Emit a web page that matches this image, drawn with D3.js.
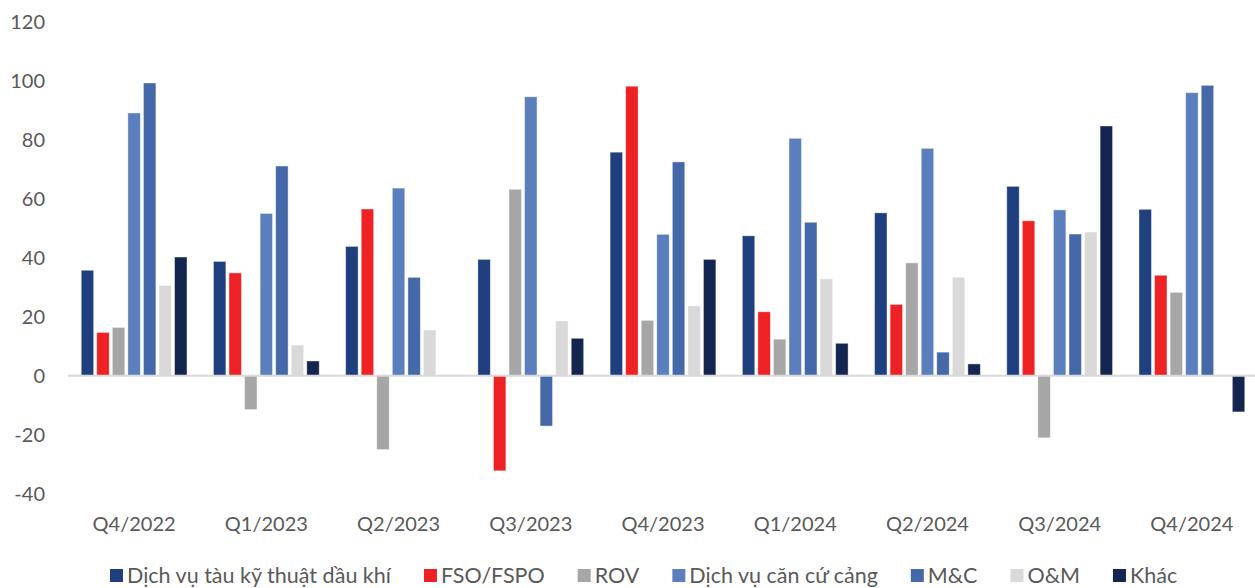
<!DOCTYPE html>
<html>
<head>
<meta charset="utf-8">
<script src="https://cdn.jsdelivr.net/npm/d3@7"></script>
<style>
  body { margin: 0; background: #fff; }
  svg { display: block; font-family: Lato, "Open Sans", sans-serif; }
</style>
</head>
<body>
<div id="chart"></div>
<script>
// quarterly growth by segment (%)
const quarters = ["Q4/2022", "Q1/2023", "Q2/2023", "Q3/2023", "Q4/2023", "Q1/2024", "Q2/2024", "Q3/2024", "Q4/2024"];

const seriesNames = ["Dịch vụ tàu kỹ thuật dầu khí", "FSO/FSPO", "ROV", "Dịch vụ căn cứ cảng", "M&C", "O&M", "Khác"];
const seriesColors = ["#1F3F7E", "#EE2125", "#A6A6A6", "#5B7FBD", "#4569A8", "#D9D9D9", "#14264F"];

const tauKyThuat = [35.8, 38.8, 43.9, 39.5, 75.9, 47.5, 55.3, 64.3, 56.5];
const fso        = [14.7, 34.9, 56.6, -32.3, 98.3, 21.7, 24.2, 52.6, 34.1];
const rov        = [16.4, -11.5, -25.1, 63.3, 18.8, 12.4, 38.3, -21.1, 28.3];
const canCuCang  = [89.2, 55.1, 63.7, 94.7, 48.0, 80.6, 77.2, 56.3, 96.1];
const mc         = [99.4, 71.2, 33.4, -17.1, 72.6, 52.1, 8.0, 48.1, 98.6];
const om         = [30.6, 10.4, 15.5, 18.6, 23.7, 32.9, 33.4, 48.8, 0];
const khac       = [40.3, 5.0, 0, 12.7, 39.5, 11.0, 4.0, 84.8, -12.3];

const yTicks = [-40, -20, 0, 20, 40, 60, 80, 100, 120];

const allSeries = [tauKyThuat, fso, rov, canCuCang, mc, om, khac];

const W = 1255, H = 588;
const margin = { top: 22, right: 0, bottom: 95, left: 68 };

const svg = d3.select("#chart").append("svg")
  .attr("width", W)
  .attr("height", H);

const x0 = d3.scaleBand()
  .domain(quarters)
  .range([margin.left, 1258])
  .paddingInner(0.2)
  .paddingOuter(0.1);

const x1 = d3.scaleBand()
  .domain(seriesNames)
  .range([0, x0.bandwidth()])
  .paddingInner(0.2);

const y = d3.scaleLinear()
  .domain([-40, 120])
  .range([493.5, 22.3]);

const color = d3.scaleOrdinal().domain(seriesNames).range(seriesColors);

// y tick labels (no axis line)
svg.append("g")
  .selectAll("text")
  .data(yTicks)
  .enter()
  .append("text")
  .attr("x", 45)
  .attr("y", d => y(d))
  .attr("dy", "0.35em")
  .attr("text-anchor", "end")
  .attr("font-size", "20px")
  .attr("fill", "#595959")
  .text(d => d);

// bars
const rows = [];
quarters.forEach((q, i) => {
  seriesNames.forEach((s, j) => {
    rows.push({ q, s, v: allSeries[j][i] });
  });
});

svg.append("g")
  .selectAll("rect")
  .data(rows.filter(d => d.v !== 0))
  .enter()
  .append("rect")
  .attr("x", d => x0(d.q) + x1(d.s))
  .attr("y", d => y(Math.max(0, d.v)))
  .attr("width", x1.bandwidth())
  .attr("height", d => Math.abs(y(d.v) - y(0)))
  .attr("fill", d => color(d.s))
  .attr("stroke", "#ffffff")
  .attr("stroke-opacity", 0.5)
  .attr("stroke-width", 0.8);

// zero line
svg.append("line")
  .attr("x1", margin.left)
  .attr("x2", W)
  .attr("y1", y(0))
  .attr("y2", y(0))
  .attr("stroke", "#D9D9D9")
  .attr("stroke-width", 2);

// category labels
svg.append("g")
  .selectAll("text")
  .data(quarters)
  .enter()
  .append("text")
  .attr("x", d => x0(d) + x0.bandwidth() / 2)
  .attr("y", 524)
  .attr("dy", "0.35em")
  .attr("text-anchor", "middle")
  .attr("font-size", "20px")
  .attr("fill", "#595959")
  .text(d => d);

// legend
const legend = svg.append("g");
let lx = 110;
seriesNames.forEach(s => {
  legend.append("rect")
    .attr("x", lx)
    .attr("y", 569)
    .attr("width", 13)
    .attr("height", 13)
    .attr("fill", color(s));
  const t = legend.append("text")
    .attr("x", lx + 17)
    .attr("y", 575.5)
    .attr("dy", "0.35em")
    .attr("font-size", "21.5px")
    .attr("fill", "#595959")
    .text(s);
  lx += 17 + t.node().getComputedTextLength() + 33;
});
</script>
</body>
</html>
